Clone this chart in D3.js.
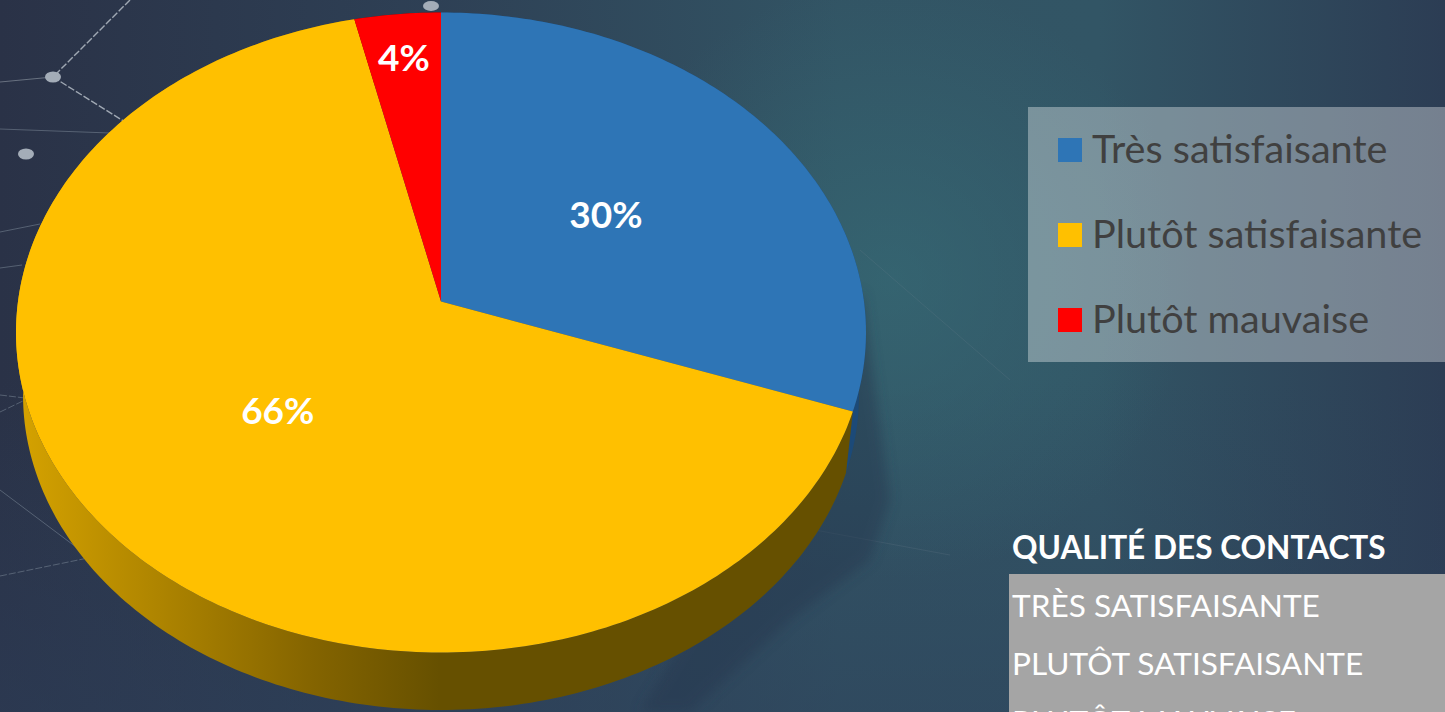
<!DOCTYPE html>
<html><head><meta charset="utf-8">
<script src="https://cdn.jsdelivr.net/npm/d3@7"></script>
<style>html,body{margin:0;padding:0;background:#2c3c50;overflow:hidden}svg{display:block}</style>
</head><body><div id="chart"></div>
<script>
const categories = ["Très satisfaisante", "Plutôt satisfaisante", "Plutôt mauvaise"];
const values = [30.45, 65.95, 3.6];
const tableTitle = "QUALITÉ DES CONTACTS";
const topColors = ["#2e75b6", "#ffc000", "#ff0000"];
const labelRadii = [0.49, 0.5, 0.84];

const W = 1445, H = 712;
const svg = d3.select("#chart").append("svg").attr("width", W).attr("height", H);
const defs = svg.append("defs");
const font = "Lato, Carlito, sans-serif";

// ---------- background ----------
function linear(id, x1, y1, x2, y2, stops) {
  const g = defs.append("linearGradient").attr("id", id).attr("gradientUnits", "userSpaceOnUse")
    .attr("x1", x1).attr("y1", y1).attr("x2", x2).attr("y2", y2);
  stops.forEach(s => g.append("stop").attr("offset", s[0]).attr("stop-color", s[1]).attr("stop-opacity", s[2] === undefined ? 1 : s[2]));
}
function radial(id, cx, cy, r, stops) {
  const g = defs.append("radialGradient").attr("id", id).attr("gradientUnits", "userSpaceOnUse")
    .attr("cx", cx).attr("cy", cy).attr("r", r);
  stops.forEach(s => g.append("stop").attr("offset", s[0]).attr("stop-color", s[1]).attr("stop-opacity", s[2]));
}
linear("bg", 0, 0, W, 0, [[0, "#2a3247"], [0.3, "#2e4055"], [0.58, "#325464"], [0.76, "#325565"], [1, "#2c3d54"]]);
radial("glow", 890, 280, 300, [[0, "#37707a", 0.55], [1, "#37707a", 0]]);
linear("bottomTone", 0, 380, 0, H, [[0, "#2d3f5a", 0], [1, "#2d3f5a", 0.5]]);
svg.append("rect").attr("width", W).attr("height", H).attr("fill", "url(#bg)");
svg.append("rect").attr("width", W).attr("height", H).attr("fill", "url(#bottomTone)");
svg.append("rect").attr("width", W).attr("height", H).attr("fill", "url(#glow)");

// ---------- decorative network behind the pie ----------
const netLines = [
  [[130, 0], [53, 77]], [[53, 77], [125, 122]], [[0, 82], [53, 77]], [[0, 129], [110, 133]],
  [[0, 232], [40, 224]], [[0, 268], [22, 265]], [[0, 412], [25, 400]], [[0, 395], [25, 398]], [[0, 490], [80, 550]],
  [[0, 576], [88, 558]], [[860, 250], [1010, 380]], [[815, 530], [950, 555]]
];
const netDots = [[53, 77, 8, 5.5], [26, 154, 8, 5.5], [431, 6, 8, 5]];
svg.append("g").selectAll("line").data(netLines).join("line")
  .attr("x1", d => d[0][0]).attr("y1", d => d[0][1]).attr("x2", d => d[1][0]).attr("y2", d => d[1][1])
  .attr("stroke", (d, i) => i < 3 ? "#b4bcc6" : "#8b98a6")
  .attr("stroke-width", (d, i) => i < 2 ? 1.4 : 1)
  .attr("stroke-dasharray", (d, i) => (i < 2 || i === 9 || (i > 5 && i < 8)) ? "7 2" : null)
  .attr("stroke-opacity", (d, i) => i < 2 ? 0.85 : i > 9 ? 0.14 : 0.45);
svg.append("g").selectAll("ellipse").data(netDots).join("ellipse")
  .attr("cx", d => d[0]).attr("cy", d => d[1]).attr("rx", d => d[2]).attr("ry", d => d[3]).attr("fill", "#a4adb8");

// ---------- pie shadow ----------
defs.append("filter").attr("id", "blur").attr("x", "-30%").attr("y", "-30%").attr("width", "160%").attr("height", "160%")
  .append("feGaussianBlur").attr("stdDeviation", 6);
const shadowPts = [[862, 290], [890, 500], [870, 560], [790, 620], [690, 712], [640, 712], [800, 450]];
svg.append("path").attr("d", d3.line()(shadowPts)).attr("fill", "#27394f").attr("opacity", 0.5).attr("filter", "url(#blur)");

// ---------- perspective disc ----------
const k = -0.0969;
const project = (disc) => (theta, r = 1) => {
  const u = r * Math.sin(theta), v = -r * Math.cos(theta), w = 1 + k * v;
  return [disc.cx + disc.c * u / w, (disc.a * v + disc.b) / w];
};
const topDisc = project({ cx: 441, c: 423, a: 287.8, b: 301.5 });
const lowDisc = project({ cx: 441, c: 416, a: 276.7, b: 364.5 });

const arcs = d3.pie().sort(null).value(d => d)(values);
const samples = (a0, a1) => d3.range(0, 1.0001, 1 / Math.max(8, Math.ceil((a1 - a0) * 60))).map(t => a0 + (a1 - a0) * t);
const line = d3.line();

// ---------- sides ----------
linear("sideYellow", 16, 0, 440, 0, [[0, "#d6a300"], [0.25, "#b88c00"], [0.7, "#846400"], [1, "#665000"]]);
const sideFills = ["#1c4a78", "url(#sideYellow)", "#7a0000"];
svg.append("g").selectAll("path").data(arcs).join("path")
  .attr("fill", (d, i) => sideFills[i])
  .attr("d", d => {
    const s = samples(d.startAngle, d.endAngle);
    return line([...s.map(t => topDisc(t)), ...s.slice().reverse().map(t => lowDisc(t))]) + "Z";
  });

// ---------- top face ----------
svg.append("g").selectAll("path").data(arcs).join("path")
  .attr("fill", (d, i) => topColors[i])
  .attr("d", d => line([topDisc(0, 0), ...samples(d.startAngle, d.endAngle).map(t => topDisc(t))]) + "Z");

// ---------- value labels ----------
svg.append("g").selectAll("text").data(arcs).join("text")
  .attr("transform", (d, i) => `translate(${topDisc((d.startAngle + d.endAngle) / 2, labelRadii[i])})`)
  .attr("text-anchor", "middle").attr("dy", "0.38em")
  .attr("font-family", font).attr("font-weight", 700).attr("font-size", 37).attr("fill", "#fff")
  .text(d => d3.format(".0f")(d.value) + "%");

// ---------- legend ----------
svg.append("rect").attr("x", 1028).attr("y", 107).attr("width", 417).attr("height", 255)
  .attr("fill", "#fff").attr("fill-opacity", 0.35);
const legendY = d3.scalePoint().domain(categories).range([150, 320]);
const legend = svg.append("g").selectAll("g").data(categories).join("g")
  .attr("transform", d => `translate(1058,${legendY(d)})`);
legend.append("rect").attr("y", -12).attr("width", 24).attr("height", 24).attr("fill", (d, i) => topColors[i]);
legend.append("text").attr("x", 34).attr("y", 13)
  .attr("font-family", font).attr("font-size", 39.6).attr("fill", "#404040").text(d => d);

// ---------- table ----------
svg.append("text").attr("x", 1012).attr("y", 559).attr("font-family", font).attr("font-weight", 700)
  .attr("font-size", 31.6).attr("fill", "#fff").text(tableTitle);
svg.append("rect").attr("x", 1009).attr("y", 574).attr("width", 436).attr("height", 138).attr("fill", "#a5a5a5");
const rowY = d3.scalePoint().domain(categories).range([617, 733]);
svg.append("g").selectAll("text").data(categories).join("text")
  .attr("x", 1012).attr("y", d => rowY(d))
  .attr("font-family", font).attr("font-size", 31.6).attr("fill", "#fff").text(d => d.toUpperCase());
</script></body></html>
